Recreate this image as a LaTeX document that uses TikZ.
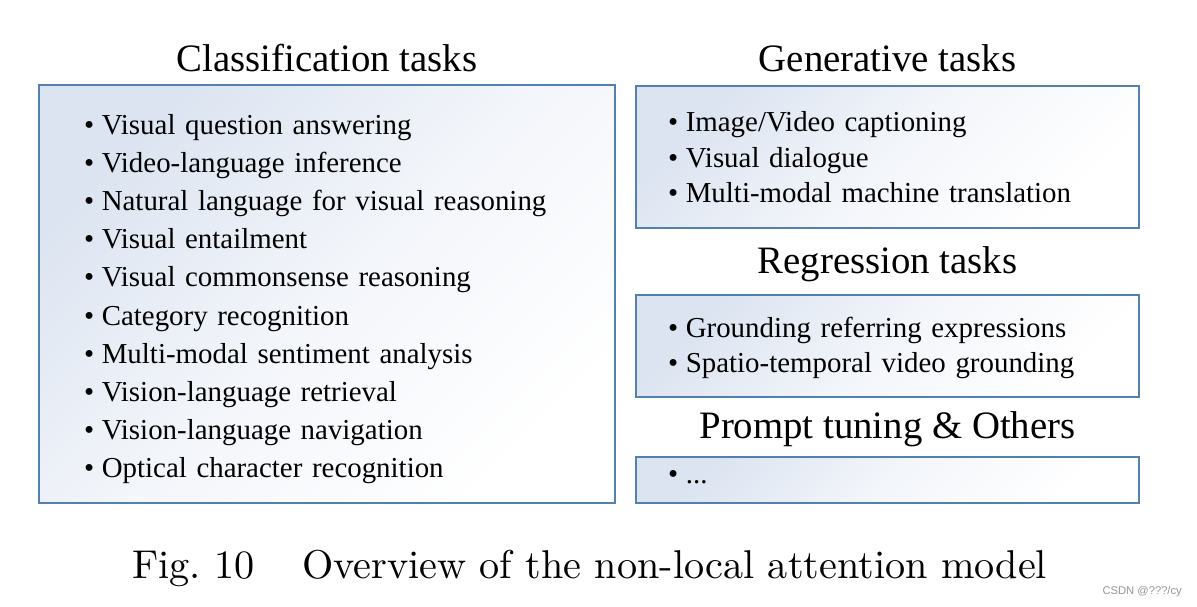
\documentclass[tikz,border=0pt]{standalone}
\usepackage{fontspec}
\usepackage{xcolor}
\usepackage{graphicx}
\usetikzlibrary{positioning}
\newfontfamily\boxfont{Liberation Serif}
\newfontfamily\markfont{Liberation Sans}
\definecolor{boxline}{RGB}{84,128,176}
\definecolor{boxshade}{RGB}{220,228,241}
\definecolor{markgray}{RGB}{150,150,150}
\newcommand{\taskbullet}{•\hspace{7.5pt}}

\begin{document}
\begin{tikzpicture}[x=1pt,y=-1pt,node distance=38.2pt,
  task box/.style={draw=boxline,line width=2.4pt,inner sep=0pt,top color=boxshade,bottom color=white,middle color=boxshade!35!white,shading angle=45},
  task title/.style={anchor=base,inner sep=0pt,font=\boxfont\fontsize{38.8}{44}\selectfont},
  task item/.style={inner sep=0pt,text width=470pt,align=left,text height=21pt,text depth=8pt,font=\boxfont\fontsize{28.9}{34}\selectfont},
  fig text/.style={anchor=base west,inner sep=0pt,font=\fontsize{10}{12}\selectfont}]
\useasboundingbox (0,0) rectangle (1197,606);
% boxes
\node[task box,minimum width=576pt,minimum height=418pt] (clsbox) at (327,294) {};
\node[task box,minimum width=503pt,minimum height=142pt] (genbox) at (887.5,157) {};
\node[task box,minimum width=503pt,minimum height=102pt] (regbox) at (887.5,346) {};
\node[task box,minimum width=503pt,minimum height=46pt] (othbox) at (887.5,480) {};
% titles
\node[task title] (clstitle) at (327,71.5) {Classification tasks};
\node[task title] (gentitle) at (887.5,71.5) {Generative tasks};
\node[task title] (regtitle) at (887.5,273) {Regression tasks};
\node[task title] (othtitle) at (887.5,438) {Prompt tuning \& Others};
% classification
\node[task item,anchor=base west] (cls1) at (84,134) {\taskbullet Visual question answering};
\node[task item] (cls2) [below of=cls1] {\taskbullet Video-language inference};
\node[task item] (cls3) [below of=cls2] {\taskbullet Natural language for visual reasoning};
\node[task item] (cls4) [below of=cls3] {\taskbullet Visual entailment};
\node[task item] (cls5) [below of=cls4] {\taskbullet Visual commonsense reasoning};
\node[task item] (cls6) [below of=cls5] {\taskbullet Category recognition};
\node[task item] (cls7) [below of=cls6] {\taskbullet Multi-modal sentiment analysis};
\node[task item] (cls8) [below of=cls7] {\taskbullet Vision-language retrieval};
\node[task item] (cls9) [below of=cls8] {\taskbullet Vision-language navigation};
\node[task item] (cls10) [below of=cls9] {\taskbullet Optical character recognition};
% generative, regression, others
\begin{scope}[node distance=35.6pt]
\node[task item,anchor=base west] (gen1) at (668,131.5) {\taskbullet Image/Video captioning};
\node[task item] (gen2) [below of=gen1] {\taskbullet Visual dialogue};
\node[task item] (gen3) [below of=gen2] {\taskbullet Multi-modal machine translation};
\node[task item,anchor=base west] (reg1) at (668,337) {\taskbullet Grounding referring expressions};
\node[task item] (reg2) [below of=reg1] {\taskbullet Spatio-temporal video grounding};
\node[task item,anchor=base west] (oth1) at (668,483) {\taskbullet ...};
\end{scope}
% caption
\node[fig text] (fignum) at (132,578) {\scalebox{4.02}{Fig.\ 10}};
\node[fig text] (figcap) at (302,578) {\scalebox{4.02}{Overview of the non-local attention model}};
\node[anchor=base east,inner sep=0pt,text=markgray,font=\markfont\fontsize{11.2}{13}\selectfont] (mark) at (1182,594) {CSDN @???/cy};
\end{tikzpicture}
\end{document}
